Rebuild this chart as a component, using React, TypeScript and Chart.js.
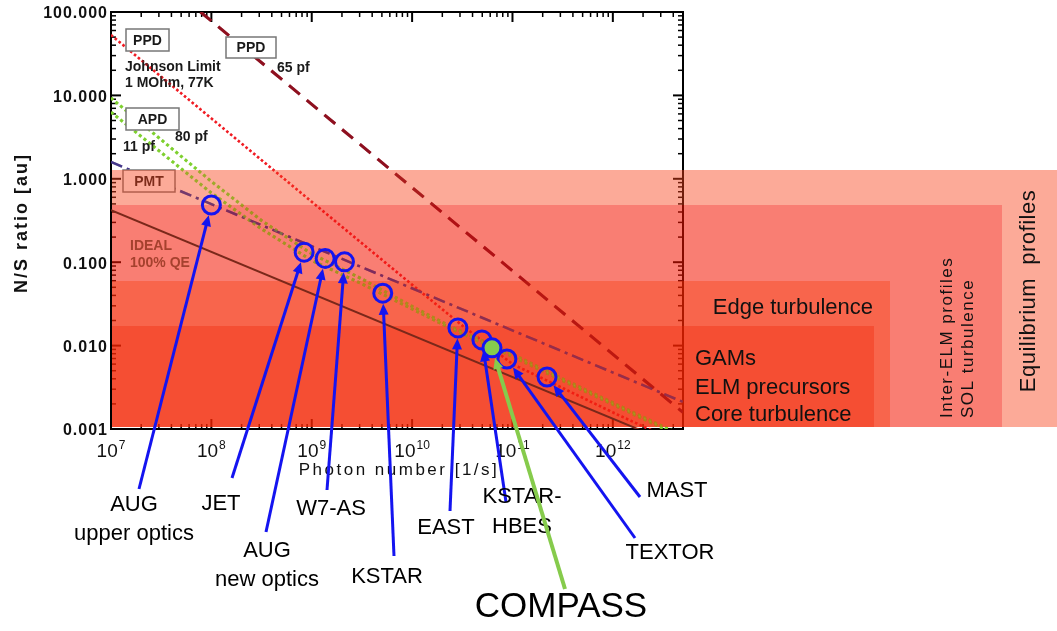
import React, { useEffect, useRef } from 'react';
import { Chart, registerables } from 'chart.js';

Chart.register(...registerables);

// ---------- axes ----------
const photonDecades = [1e7, 1e8, 1e9, 1e10, 1e11, 1e12];
const photonDecadeExponents = ['7', '8', '9', '10', '11', '12'];
const photonMin = 1e7;
const photonMax = 5e12;
const ratioDecades = [0.001, 0.01, 0.1, 1, 10, 100];
const ratioDecadeLabels = ['0.001', '0.010', '0.100', '1.000', '10.000', '100.000'];
const ratioMin = 0.001;
const ratioMax = 100;

// ---------- detector noise limits (N/S vs photon rate) ----------
const idealPhotons = [1e7, 5e12];
const idealRatio = [0.42, 0.000594];

const pmtPhotons = [1e7, 5e12];
const pmtRatio = [1.59, 0.00211];

const ppd65Photons = [7.8e7, 5e12];
const ppd65Ratio = [100, 0.00158];

const johnsonPhotons = [1e7, 1e8, 1e9, 1e10, 3.16e10, 1e11, 3.16e11, 1e12, 2.5e12];
const johnsonRatio = [53, 5.3, 0.53, 0.0537, 0.0174, 0.006, 0.0031, 0.00158, 0.00095];

const apdPhotons = [1e7, 1e8, 3.16e8, 1e9, 3.16e9, 1e10, 2.5e10, 1e11, 3.16e11, 3.16e12, 5e12];
const apd80Ratio = [9.3, 0.93, 0.316, 0.126, 0.063, 0.0295, 0.0166, 0.0079, 0.004, 0.00107, 0.00083];
const apd11Ratio = [6.3, 0.676, 0.251, 0.105, 0.055, 0.0275, 0.0158, 0.0074, 0.0038, 0.00102, 0.00079];

// ---------- BES systems ----------
const experimentNames = ['AUG upper optics', 'JET', 'AUG new optics', 'W7-AS', 'KSTAR', 'EAST', 'KSTAR-HBES', 'COMPASS', 'TEXTOR', 'MAST'];
const experimentPhotons = [1.0e8, 8.4e8, 1.36e9, 2.12e9, 5.1e9, 2.86e10, 4.96e10, 6.25e10, 8.8e10, 2.21e11];
const experimentRatio = [0.485, 0.132, 0.111, 0.101, 0.0425, 0.0163, 0.0117, 0.0094, 0.0069, 0.0042];

// ---------- physics ranges (nested shaded areas) ----------
const rangeNames = ['Equilibrium profiles', 'Inter-ELM profiles, SOL turbulence', 'Edge turbulence', 'GAMs, ELM precursors, Core turbulence'];
const rangeTopRatio = [1.28, 0.49, 0.0596, 0.0173];
const rangeRightPhotons = [3e16, 7.5e15, 5.8e14, 4.0e14];
const rangeFloorRatio = 0.00107;

// ---------- styling / layout ----------
const FONT = '"Liberation Sans", Arial, Helvetica, sans-serif';
const rangeFill = ['rgba(248,66,26,0.45)', 'rgba(244,20,0,0.55)', 'rgba(245,35,0,0.70)', 'rgba(242,34,0,0.80)'];
const BLUE = '#1414F0';
const GREEN = '#86CB4C';
const CIRCLE_R = 9;
const CIRCLE_W = 3;
const LIMIT_ORDER = 5;

const noteBoxes = [
  { text: 'PPD', x: 126, y: 29, w: 43, h: 22 },
  { text: 'PPD', x: 226, y: 37, w: 50, h: 21 },
  { text: 'APD', x: 126, y: 108, w: 53, h: 22 },
  { text: 'PMT', x: 123, y: 170, w: 52, h: 22 },
];
const noteTexts = [
  { text: 'Johnson Limit', x: 125, y: 67 },
  { text: '1 MOhm, 77K', x: 125, y: 83 },
  { text: '65 pf', x: 277, y: 68 },
  { text: '80 pf', x: 175, y: 137 },
  { text: '11 pf', x: 123, y: 147 },
];

// label text lines, label centre, and where the pointer starts
const calloutLayout = [
  { lines: ['AUG', 'upper optics'], x: 134, ys: [505, 534], tail: [139, 489] },
  { lines: ['JET'], x: 221, ys: [504], tail: [232, 478] },
  { lines: ['AUG', 'new optics'], x: 267, ys: [551, 580], tail: [266, 532] },
  { lines: ['W7-AS'], x: 331, ys: [509], tail: [327, 490] },
  { lines: ['KSTAR'], x: 387, ys: [577], tail: [394, 556] },
  { lines: ['EAST'], x: 446, ys: [528], tail: [450, 511] },
  { lines: ['KSTAR-', 'HBES'], x: 522, ys: [497, 527], tail: [506, 502] },
  { lines: ['COMPASS'], x: 561, ys: [607], tail: [565, 589] },
  { lines: ['TEXTOR'], x: 670, ys: [553], tail: [635, 538] },
  { lines: ['MAST'], x: 677, ys: [491], tail: [640, 497] },
];

const toPoints = (xs: number[], ys: number[]) => xs.map((x, i) => ({ x, y: ys[i] }));

function setSpacing(ctx: any, v: string) {
  if ('letterSpacing' in ctx) ctx.letterSpacing = v;
}

function drawFrame(chart: any) {
  const { ctx, chartArea: a, scales } = chart;
  const xs = scales.x;
  const ys = scales.y;
  ctx.save();
  ctx.strokeStyle = '#000';
  ctx.lineWidth = 2;
  ctx.strokeRect(a.left, a.top, a.right - a.left, a.bottom - a.top);

  const seg = (x1: number, y1: number, x2: number, y2: number, w: number) => {
    ctx.lineWidth = w;
    ctx.beginPath();
    ctx.moveTo(x1, y1);
    ctx.lineTo(x2, y2);
    ctx.stroke();
  };

  photonDecades.forEach((d) => {
    for (let m = 1; m <= 9; m++) {
      const v = m * d;
      if (v > photonMax) break;
      const px = xs.getPixelForValue(v);
      const len = m === 1 ? 10 : 5;
      const w = m === 1 ? 2 : 1.5;
      seg(px, a.bottom, px, a.bottom - len, w);
      seg(px, a.top, px, a.top + len, w);
    }
  });
  ratioDecades.forEach((d) => {
    for (let m = 1; m <= 9; m++) {
      const v = m * d;
      if (v > ratioMax * 1.0001) break;
      const py = ys.getPixelForValue(v);
      const len = m === 1 ? 10 : 5;
      const w = m === 1 ? 2 : 1.5;
      seg(a.left, py, a.left + len, py, w);
      seg(a.right, py, a.right - len, py, w);
    }
  });

  // tick labels
  ctx.fillStyle = '#111';
  ctx.font = `bold 16px ${FONT}`;
  ctx.textAlign = 'right';
  ctx.textBaseline = 'middle';
  setSpacing(ctx, '1px');
  ratioDecades.forEach((v, i) => {
    ctx.fillText(ratioDecadeLabels[i], a.left - 3, ys.getPixelForValue(v) + 2);
  });
  setSpacing(ctx, '0px');

  ctx.textAlign = 'left';
  photonDecades.forEach((v, i) => {
    const px = xs.getPixelForValue(v);
    const exp = photonDecadeExponents[i];
    ctx.font = `19px ${FONT}`;
    const w1 = ctx.measureText('10').width;
    ctx.font = `12px ${FONT}`;
    const w2 = ctx.measureText(exp).width;
    const start = px - (w1 + 1 + w2) / 2;
    ctx.font = `19px ${FONT}`;
    ctx.fillText('10', start, a.bottom + 23);
    ctx.font = `12px ${FONT}`;
    ctx.fillText(exp, start + w1 + 1, a.bottom + 17);
  });

  // axis titles
  ctx.font = `17px ${FONT}`;
  ctx.textAlign = 'center';
  setSpacing(ctx, '2.5px');
  ctx.fillText('Photon number [1/s]', 399, a.bottom + 41);
  ctx.font = `bold 18px ${FONT}`;
  setSpacing(ctx, '2px');
  ctx.translate(22, 223);
  ctx.rotate(-Math.PI / 2);
  ctx.fillText('N/S ratio [au]', 0, 0);
  setSpacing(ctx, '0px');
  ctx.restore();
}

function drawNotes(chart: any) {
  const { ctx } = chart;
  ctx.save();
  ctx.font = `bold 14px ${FONT}`;
  ctx.textBaseline = 'middle';
  noteBoxes.forEach((b) => {
    ctx.fillStyle = '#fff';
    ctx.fillRect(b.x, b.y, b.w, b.h);
    ctx.strokeStyle = '#777';
    ctx.lineWidth = 1.5;
    ctx.strokeRect(b.x, b.y, b.w, b.h);
    ctx.fillStyle = '#1a1a1a';
    ctx.textAlign = 'center';
    ctx.fillText(b.text, b.x + b.w / 2, b.y + b.h / 2 + 1);
  });
  ctx.textAlign = 'left';
  ctx.fillStyle = '#1a1a1a';
  noteTexts.forEach((t) => ctx.fillText(t.text, t.x, t.y));
  ctx.restore();
}

function drawRanges(chart: any) {
  const { ctx, scales } = chart;
  const xs = scales.x;
  const ys = scales.y;
  const x0 = Math.round(xs.getPixelForValue(photonMin)) + 1;
  const floor = Math.round(ys.getPixelForValue(rangeFloorRatio));
  const top = (i: number) => Math.round(ys.getPixelForValue(rangeTopRatio[i]));
  const right = (i: number) => Math.min(Math.round(xs.getPixelForValue(rangeRightPhotons[i])), chart.width);
  ctx.save();
  rangeNames.forEach((_, i) => {
    ctx.beginPath();
    ctx.rect(x0, top(i), right(i) - x0, floor - top(i));
    if (i < rangeNames.length - 1) ctx.rect(x0, top(i + 1), right(i + 1) - x0, floor - top(i + 1));
    ctx.fillStyle = rangeFill[i];
    ctx.fill('evenodd');
  });
  ctx.restore();
}

// the noise-limit curves show through the shaded ranges: trace them again, faintly, on top
function retraceLimits(chart: any) {
  const { ctx, chartArea: a } = chart;
  ctx.save();
  ctx.beginPath();
  ctx.rect(a.left, a.top, a.right - a.left, a.bottom - a.top);
  noteBoxes.forEach((b) => ctx.rect(b.x - 1, b.y - 1, b.w + 2, b.h + 2));
  ctx.clip('evenodd');
  ctx.globalAlpha = 0.42;
  chart.data.datasets.forEach((ds: any, i: number) => {
    if (ds.order !== LIMIT_ORDER) return;
    const meta = chart.getDatasetMeta(i);
    if (meta.dataset) meta.dataset.draw(ctx, a);
  });
  ctx.restore();
}

function drawRangeCaptions(chart: any) {
  const { ctx } = chart;
  ctx.save();
  ctx.fillStyle = '#111';
  ctx.textBaseline = 'middle';
  ctx.font = `22px ${FONT}`;
  ctx.textAlign = 'right';
  ctx.fillText('Edge turbulence', 873, 308);
  ctx.textAlign = 'left';
  ctx.fillText('GAMs', 695, 359);
  ctx.fillText('ELM precursors', 695, 388);
  ctx.fillText('Core turbulence', 695, 415);

  const vertical = (text: string, x: number, y: number, align: string, font: string, spacing: string) => {
    ctx.save();
    ctx.translate(x, y);
    ctx.rotate(-Math.PI / 2);
    ctx.font = font;
    ctx.textAlign = align;
    setSpacing(ctx, spacing);
    ctx.fillText(text, 0, 0);
    ctx.restore();
  };
  vertical('Inter-ELM profiles', 947, 418, 'left', `17px ${FONT}`, '1.5px');
  vertical('SOL turbulence', 968, 418, 'left', `17px ${FONT}`, '1.5px');
  vertical('Equilibrium  profiles', 1029, 291, 'center', `22px ${FONT}`, '0.5px');

  // label of the ideal-detector line
  ctx.font = `bold 14px ${FONT}`;
  ctx.fillStyle = '#A5412E';
  ctx.textAlign = 'left';
  ctx.fillText('IDEAL', 130, 246);
  ctx.fillText('100% QE', 130, 263);
  ctx.restore();
}

function drawCallouts(chart: any) {
  const { ctx, scales } = chart;
  const xs = scales.x;
  const ys = scales.y;
  ctx.save();
  experimentNames.forEach((name, i) => {
    const L = calloutLayout[i];
    const color = name === 'COMPASS' ? GREEN : BLUE;
    const cx = xs.getPixelForValue(experimentPhotons[i]);
    const cy = ys.getPixelForValue(experimentRatio[i]);
    const [tx, ty] = L.tail;
    const dx = cx - tx;
    const dy = cy - ty;
    const d = Math.hypot(dx, dy);
    const ux = dx / d;
    const uy = dy / d;
    const reach = CIRCLE_R + CIRCLE_W / 2;
    const tipX = cx - ux * reach;
    const tipY = cy - uy * reach;
    const head = 11;
    const half = 5;
    const bx = tipX - ux * head;
    const by = tipY - uy * head;
    ctx.strokeStyle = color;
    ctx.fillStyle = color;
    ctx.lineWidth = name === 'COMPASS' ? 4 : 3;
    ctx.lineCap = 'butt';
    ctx.beginPath();
    ctx.moveTo(tx, ty);
    ctx.lineTo(bx + ux * 2, by + uy * 2);
    ctx.stroke();
    ctx.beginPath();
    ctx.moveTo(tipX, tipY);
    ctx.lineTo(bx - uy * half, by + ux * half);
    ctx.lineTo(bx + uy * half, by - ux * half);
    ctx.closePath();
    ctx.fill();

    ctx.fillStyle = '#000';
    ctx.textAlign = 'center';
    ctx.textBaseline = 'middle';
    ctx.font = name === 'COMPASS' ? `35px ${FONT}` : `22px ${FONT}`;
    L.lines.forEach((s, k) => ctx.fillText(s, L.x, L.ys[k]));
  });
  ctx.restore();
}

const decorPlugin = {
  id: 'nsDecor',
  beforeDraw(chart: any) {
    const { ctx, width, height } = chart;
    ctx.save();
    ctx.fillStyle = '#fff';
    ctx.fillRect(0, 0, width, height);
    ctx.restore();
  },
  beforeDatasetsDraw(chart: any) {
    drawFrame(chart);
  },
  beforeDatasetDraw(chart: any, args: any) {
    const ds = chart.data.datasets[args.index];
    if (ds && ds.label === 'Ideal 100% QE') {
      drawNotes(chart);
      drawRanges(chart);
      retraceLimits(chart);
      drawRangeCaptions(chart);
    }
  },
  afterDatasetsDraw(chart: any) {
    drawCallouts(chart);
  },
};

const curve = (label: string, xs: number[], ys: number[], color: string, width: number, dash: number[], order: number) => ({
  label,
  data: toPoints(xs, ys),
  showLine: true,
  borderColor: color,
  backgroundColor: color,
  borderWidth: width,
  borderDash: dash,
  pointRadius: 0,
  pointHoverRadius: 0,
  tension: 0,
  fill: false,
  order,
});

export default function App() {
  const ref = useRef<HTMLCanvasElement>(null);

  useEffect(() => {
    if (!ref.current) return;
    const chart = new Chart(ref.current, {
      type: 'scatter',
      data: {
        datasets: [
          curve('PPD 65 pf', ppd65Photons, ppd65Ratio, '#8E1020', 3, [14, 9], LIMIT_ORDER),
          curve('Johnson limit 1 MOhm, 77K', johnsonPhotons, johnsonRatio, '#F01C24', 2.5, [2.5, 2.5], LIMIT_ORDER),
          curve('APD 80 pf', apdPhotons, apd80Ratio, '#7FD030', 3, [3, 3], LIMIT_ORDER),
          curve('APD 11 pf', apdPhotons, apd11Ratio, '#7FD030', 3, [3, 3], LIMIT_ORDER),
          curve('PMT', pmtPhotons, pmtRatio, '#45388A', 2.5, [12, 5, 3, 5], LIMIT_ORDER),
          curve('Ideal 100% QE', idealPhotons, idealRatio, '#7A281A', 2, [], 1),
          {
            label: 'BES systems',
            data: toPoints(experimentPhotons, experimentRatio),
            showLine: false,
            pointRadius: CIRCLE_R,
            pointHoverRadius: CIRCLE_R,
            pointBorderWidth: CIRCLE_W,
            pointBorderColor: BLUE,
            pointBackgroundColor: experimentNames.map((n) => (n === 'COMPASS' ? GREEN : 'rgba(0,0,0,0)')),
            order: 0,
          },
        ],
      },
      options: {
        responsive: false,
        devicePixelRatio: 1,
        animation: false,
        events: [],
        layout: { padding: { left: 111, right: 374, top: 12, bottom: 202 } },
        plugins: { legend: { display: false }, tooltip: { enabled: false } },
        scales: {
          x: { type: 'logarithmic', min: photonMin, max: photonMax, display: false },
          y: { type: 'logarithmic', min: ratioMin, max: ratioMax, display: false },
        },
      },
      plugins: [decorPlugin],
    } as any);
    return () => chart.destroy();
  }, []);

  return (
    <div style={{ position: 'absolute', left: 0, top: 0, width: 1057, height: 631, background: '#fff' }}>
      <canvas ref={ref} width={1057} height={631} style={{ display: 'block' }} />
    </div>
  );
}
